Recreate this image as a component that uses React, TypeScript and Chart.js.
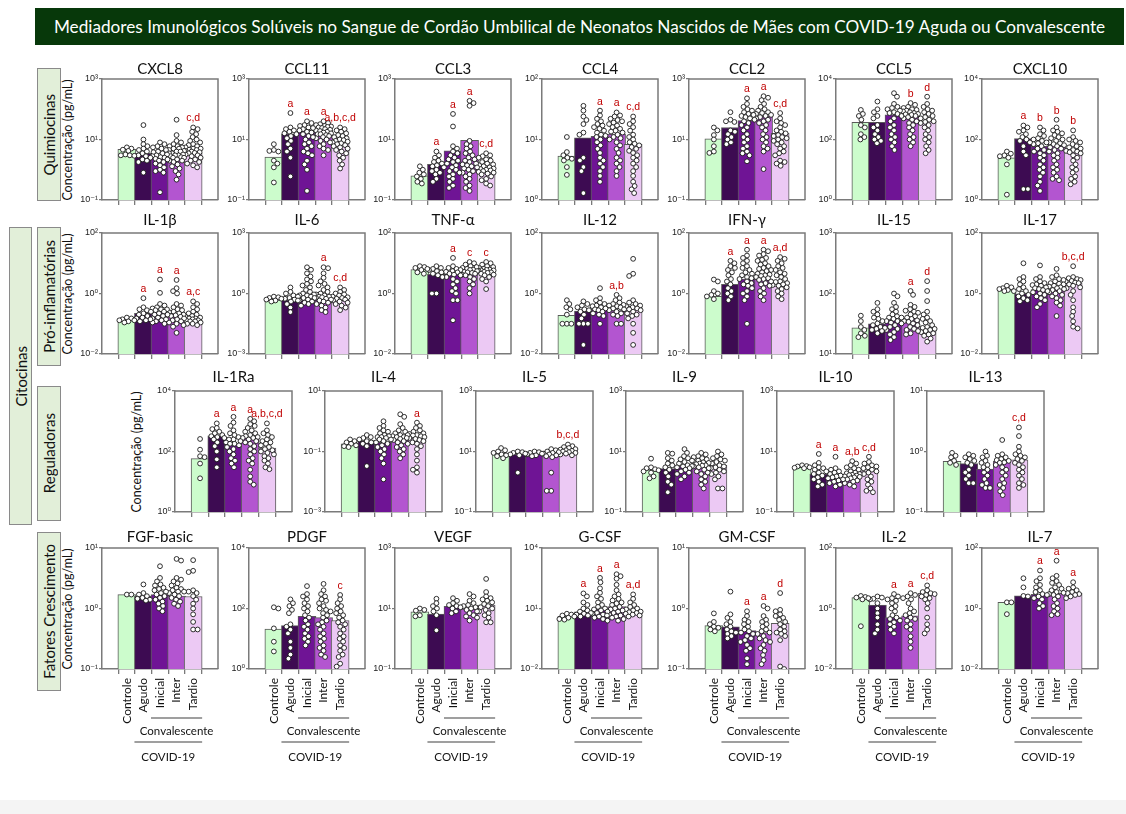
import React, { useEffect, useRef } from "react";
import { Chart, registerables } from "chart.js";
Chart.register(...registerables);

// ---------- shared categories / styles ----------
const GROUPS = ["Controle", "Agudo", "Inicial", "Inter", "Tardio"];
const COLORS = ["#ccfccc", "#3d0b52", "#6f1495", "#b355d0", "#ecc9f4"];
const FONT = "Lato, 'Open Sans', 'DejaVu Sans', sans-serif";
const TICK_FONT = "'Liberation Sans', 'DejaVu Sans', sans-serif";
const AXIS = "#7a7a7a";

// ---------- data (pg/mL) ----------
// Row 1: Quimiocinas
const CXCL8_TICKS = [0.1, 10, 1000];
const CXCL8_BARS = [4.7, 3.5, 2.8, 2.8, 3.5];
const CXCL8_SIG = ["", "", "", "", "c,d"];
const CXCL8_PTS = [
  [5.5, 5.0, 4.6, 4.2, 3.2, 3.0, 3.0, 2.9],
  [30, 10, 7, 6, 5, 4.5, 4, 3.5, 3, 2.8, 2.5, 2.2, 2, 1.8, 0.8],
  [8, 7, 6, 5.5, 5, 4.5, 4, 3.8, 3.5, 3.2, 3, 2.8, 2.6, 2.5, 2.3, 2.2, 2, 1.8, 1.6, 1.4, 1.2, 1.0, 0.9, 0.8, 0.18],
  [45, 14, 9, 8, 7, 6, 6, 5.5, 5, 5, 4.5, 4.2, 4, 4, 3.5, 3.5, 3.2, 3, 3, 2.8, 2.6, 2.5, 2.5, 2.2, 2, 2, 1.8, 1.5, 1.3, 1.1, 0.9, 0.7, 0.47],
  [25, 22, 18, 15, 12, 10, 9, 8, 7, 6.5, 6, 5.5, 5, 5, 4.6, 4.5, 4.2, 4, 3.8, 3.6, 3.5, 3.2, 3, 2.8, 2.5, 2.2, 2, 1.8, 1.6, 1.4, 1.2],
];

const CCL11_TICKS = [0.1, 10, 1000];
const CCL11_BARS = [2.6, 15, 20, 20, 9.3];
const CCL11_SIG = ["", "a", "a", "a", "a,b,c,d"];
const CCL11_PTS = [
  [7, 4.5, 4.2, 4.0, 2.0, 1.6, 1.2, 0.38],
  [75, 25, 22, 20, 18, 16, 15, 13, 11, 9, 7, 5, 4, 2.5, 0.6],
  [40, 35, 30, 28, 25, 24, 22, 20, 18, 17, 15, 13, 12, 10, 8, 7, 6, 5, 4, 3.5, 3, 2, 1.5, 1, 0.2],
  [40, 35, 32, 30, 28, 27, 26, 25, 24, 22, 21, 20, 19, 18, 17, 16, 15, 15, 14, 13, 12, 11, 10, 9, 8, 7, 6, 5, 4.5, 3],
  [25, 22, 20, 18, 16, 14, 13, 12, 11, 10, 9.5, 9, 8.5, 8, 7.5, 7, 6.5, 6, 5.5, 5, 4.5, 4, 3.5, 3, 2.5, 2, 1.5, 1.1],
];

const CCL3_TICKS = [0.1, 10, 1000];
const CCL3_BARS = [0.63, 1.5, 4.2, 9.3, 1.1];
const CCL3_SIG = ["", "a", "a", "a", "c,d"];
const CCL3_PTS = [
  [1.3, 1.0, 0.8, 0.7, 0.6, 0.5, 0.4, 0.35],
  [4, 3, 2.5, 2, 1.8, 1.6, 1.4, 1.3, 1.2, 1, 0.9, 0.8, 0.7, 0.5, 0.4],
  [70, 27, 6, 5, 4, 3.5, 3, 2.5, 2.2, 2, 1.8, 1.6, 1.4, 1.2, 1.0, 0.9, 0.8, 0.7, 0.6, 0.5, 0.4, 0.3, 0.25],
  [190, 160, 130, 9, 7, 6, 5, 4, 3.5, 3, 2.5, 2.2, 2, 1.8, 1.6, 1.5, 1.4, 1.3, 1.2, 1.1, 1, 0.9, 0.8, 0.7, 0.6, 0.5, 0.4, 0.3, 0.25, 0.2],
  [3.5, 3, 2.8, 2.5, 2.2, 2, 1.8, 1.6, 1.5, 1.4, 1.3, 1.2, 1.1, 1.05, 1, 0.95, 0.9, 0.85, 0.8, 0.75, 0.7, 0.6, 0.5, 0.45, 0.35, 0.3],
];

const CCL4_TICKS = [1, 10, 100];
const CCL4_BARS = [5.3, 10.7, 11.3, 12.3, 8.3];
const CCL4_SIG = ["", "", "a", "a", "c,d"];
const CCL4_PTS = [
  [11, 6.2, 5.5, 5, 4.8, 4.5, 3.5, 2.6],
  [36, 30, 24, 21, 18, 13, 12, 5, 4.5, 3.5, 3, 1.3],
  [30, 25, 22, 20, 18, 17, 16, 15, 14, 13, 12, 11.5, 11, 10, 9, 8, 7, 6, 5, 4.5, 4, 3.5, 3, 2.5, 2],
  [28, 25, 24, 22, 21, 20, 19, 18, 17, 16, 15, 14, 13.5, 13, 12, 11, 10.5, 10, 9, 8, 7, 6, 5, 4.5, 4, 3.5, 3, 2.5],
  [24, 20, 18, 16, 14, 12, 11, 10, 9, 8.5, 8, 7.5, 7, 6.5, 6, 5.5, 5, 4.5, 4, 3.5, 3, 2.5, 2, 1.7, 1.5, 1.3],
];

const CCL2_TICKS = [0.1, 10, 1000];
const CCL2_BARS = [10.5, 25, 42, 60, 16];
const CCL2_SIG = ["", "", "a", "a", "c,d"];
const CCL2_PTS = [
  [25, 20, 14, 10, 6, 4, 3.6],
  [80, 45, 40, 38, 20, 18, 15, 12, 10, 8, 7],
  [230, 150, 120, 100, 90, 80, 70, 65, 60, 55, 50, 45, 40, 35, 30, 25, 20, 15, 12, 10, 8, 6, 5, 4, 3.5, 3, 1.9],
  [270, 240, 200, 150, 120, 100, 90, 80, 75, 70, 65, 60, 55, 50, 45, 40, 35, 30, 25, 20, 15, 12, 10, 8, 6, 5, 4, 1.05],
  [75, 50, 40, 35, 30, 25, 20, 18, 16, 14, 13, 12, 11, 10, 9, 8, 7, 6, 5, 4, 3.5, 3, 2, 1.8, 1.6, 1.35],
];

const CCL5_TICKS = [1, 100, 10000];
const CCL5_BARS = [370, 370, 660, 580, 400];
const CCL5_SIG = ["", "", "", "b", "d"];
const CCL5_PTS = [
  [950, 700, 600, 450, 300, 250, 150, 120, 100],
  [1800, 1000, 800, 600, 500, 300, 250, 200, 150, 120, 100, 90, 75],
  [3400, 2600, 1500, 1200, 1100, 1000, 900, 800, 750, 700, 600, 500, 400, 300, 250, 200, 150, 120, 100, 80, 60, 45],
  [1600, 1400, 1200, 1100, 1000, 950, 900, 850, 800, 750, 700, 680, 650, 600, 550, 500, 450, 400, 350, 300, 250, 200, 150, 120, 100, 80, 60],
  [2600, 1500, 1200, 1000, 900, 800, 700, 600, 550, 500, 450, 400, 380, 350, 300, 250, 200, 150, 120, 100, 80, 60, 45, 35],
];

const CXCL10_TICKS = [1, 100, 10000];
const CXCL10_BARS = [25, 108, 60, 65, 49];
const CXCL10_SIG = ["", "a", "b", "b", "b"];
const CXCL10_PTS = [
  [40, 34, 30, 28, 25, 15, 1.5],
  [290, 250, 200, 180, 150, 120, 100, 90, 80, 60, 40, 30, 2.3, 2.3],
  [250, 200, 150, 130, 110, 100, 90, 80, 75, 70, 60, 50, 45, 40, 35, 30, 25, 20, 15, 12, 10, 8, 6, 4, 3, 2],
  [450, 250, 200, 180, 160, 140, 120, 110, 100, 90, 80, 75, 70, 65, 60, 55, 50, 45, 40, 35, 30, 25, 20, 15, 12, 10, 8, 6, 5, 4.5],
  [200, 120, 100, 90, 80, 70, 60, 55, 50, 45, 42, 40, 38, 35, 30, 25, 20, 15, 12, 10, 8, 6, 5, 4, 3.3],
];

// Row 2: Pró-inflamatórias
const IL1B_TICKS = [0.01, 1, 100];
const IL1B_BARS = [0.13, 0.22, 0.25, 0.22, 0.12];
const IL1B_SIG = ["", "a", "a", "a", "a,c"];
const IL1B_PTS = [
  [0.16, 0.15, 0.14, 0.13, 0.13, 0.12, 0.11],
  [0.7, 0.35, 0.3, 0.28, 0.25, 0.22, 0.2, 0.18, 0.16, 0.15, 0.14, 0.13, 0.12],
  [2.9, 1.05, 0.45, 0.4, 0.35, 0.32, 0.3, 0.3, 0.28, 0.25, 0.22, 0.2, 0.2, 0.18, 0.16, 0.15, 0.14, 0.13, 0.12, 0.11, 0.1],
  [2.8, 1.5, 1.2, 1.0, 0.45, 0.4, 0.35, 0.3, 0.28, 0.25, 0.24, 0.22, 0.2, 0.19, 0.18, 0.17, 0.15, 0.14, 0.13, 0.12, 0.11, 0.1, 0.09, 0.08, 0.05],
  [0.55, 0.45, 0.35, 0.3, 0.25, 0.22, 0.2, 0.18, 0.17, 0.16, 0.15, 0.15, 0.14, 0.13, 0.13, 0.12, 0.12, 0.11, 0.1, 0.1, 0.09],
];

const IL6_TICKS = [0.001, 1, 1000];
const IL6_BARS = [0.47, 0.47, 0.5, 0.57, 0.47];
const IL6_SIG = ["", "", "", "a", "c,d"];
const IL6_PTS = [
  [0.7, 0.65, 0.6, 0.55, 0.5, 0.45, 0.4],
  [2.0, 1.2, 1.0, 0.8, 0.7, 0.6, 0.55, 0.5, 0.45, 0.4, 0.3, 0.2, 0.12],
  [20, 15, 10, 7, 5, 4, 3, 2.5, 2, 1.5, 1.2, 1.0, 0.9, 0.8, 0.8, 0.7, 0.6, 0.6, 0.5, 0.45, 0.4, 0.35, 0.3, 0.25],
  [20, 18, 10, 6, 4, 3, 2.5, 2, 1.5, 1.2, 1.0, 0.9, 0.8, 0.7, 0.7, 0.65, 0.6, 0.55, 0.5, 0.45, 0.4, 0.35, 0.3, 0.25, 0.2, 0.15, 0.12],
  [2, 1.5, 1.2, 1.0, 0.9, 0.8, 0.7, 0.65, 0.6, 0.55, 0.5, 0.45, 0.4, 0.35, 0.3, 0.25, 0.2, 0.15],
];

const TNFA_TICKS = [0.01, 1, 100];
const TNFA_BARS = [6.2, 4.3, 4.3, 4.8, 5.5];
const TNFA_SIG = ["", "", "a", "c", "c"];
const TNFA_PTS = [
  [8, 7.5, 7, 6.5, 6, 5, 4.5],
  [8, 7, 6.5, 6, 5.5, 5, 4.5, 4, 3.5, 1.0, 1.0],
  [15, 8, 7, 6.5, 6, 5.5, 5.2, 5, 4.5, 4.2, 4, 3.5, 3, 2.5, 2, 1.5, 1.2, 1, 0.6, 0.6, 0.13],
  [11, 10, 9, 8, 7.5, 7, 6.5, 6.2, 6, 5.5, 5.2, 5, 4.8, 4.5, 4.2, 4, 3.5, 3, 2.5, 2, 1.5, 1.0],
  [11, 10, 9, 8, 7.5, 7, 6.5, 6.2, 6, 5.8, 5.8, 5.5, 5.2, 5, 4.8, 4.5, 4.2, 4, 3.5, 3, 2.5, 1.4],
];

const IL12_TICKS = [0.01, 1, 100];
const IL12_BARS = [0.19, 0.26, 0.3, 0.27, 0.38];
const IL12_SIG = ["", "", "", "a,b", ""];
const IL12_PTS = [
  [0.6, 0.45, 0.35, 0.3, 0.2, 0.1, 0.1, 0.1],
  [0.55, 0.45, 0.4, 0.35, 0.3, 0.28, 0.25, 0.2, 0.15, 0.1, 0.1, 0.1, 0.02],
  [1.5, 0.7, 0.6, 0.5, 0.45, 0.4, 0.38, 0.35, 0.32, 0.3, 0.28, 0.25, 0.22, 0.2, 0.18, 0.1],
  [0.9, 0.7, 0.6, 0.5, 0.45, 0.42, 0.4, 0.38, 0.35, 0.32, 0.3, 0.28, 0.25, 0.22, 0.2, 0.18, 0.1, 0.1],
  [14, 4.5, 3.8, 0.6, 0.5, 0.45, 0.4, 0.38, 0.35, 0.32, 0.3, 0.28, 0.25, 0.22, 0.2, 0.18, 0.15, 0.1, 0.05, 0.02],
];

const IFNG_TICKS = [0.01, 1, 100];
const IFNG_BARS = [0.81, 2, 3, 3, 1.75];
const IFNG_SIG = ["", "a", "a", "a", "a,d"];
const IFNG_PTS = [
  [2.9, 2.5, 1.2, 1.0, 0.9, 0.8, 0.65],
  [12, 10, 8, 7, 6, 5, 4, 3, 2.5, 2, 1.5, 1.2, 1, 0.8, 0.6],
  [28, 18, 15, 12, 10, 8, 7, 6, 5, 4.5, 4, 3.5, 3.2, 3, 2.5, 2.2, 2, 1.8, 1.5, 1.2, 1, 0.8, 0.6, 0.1],
  [28, 25, 20, 18, 15, 13, 12, 10, 9, 8, 7, 6.5, 6, 5.5, 5, 4.5, 4.2, 4, 3.8, 3.5, 3.2, 3, 2.8, 2.5, 2.2, 2, 1.8, 1.5, 1.2, 1, 0.8, 0.6],
  [16, 14, 12, 10, 8, 7, 6, 5, 4.5, 4, 3.5, 3, 2.5, 2.4, 2.2, 2, 1.9, 1.8, 1.6, 1.4, 1.2, 1, 0.8, 0.65],
];

const IL15_TICKS = [10, 100, 1000];
const IL15_BARS = [27, 31.5, 36, 38, 28];
const IL15_SIG = ["", "", "", "a", "d"];
const IL15_PTS = [
  [43, 35, 28, 25, 22, 20, 19],
  [70, 55, 50, 45, 40, 38, 35, 32, 30, 28, 27, 26, 25, 24, 22],
  [100, 90, 70, 60, 55, 50, 45, 42, 40, 40, 38, 35, 35, 33, 32, 30, 28, 26, 25, 23, 21, 19, 17],
  [110, 95, 65, 60, 55, 52, 50, 48, 45, 42, 40, 38, 36, 35, 34, 32, 30, 28, 26, 25, 24, 22, 21],
  [160, 110, 75, 50, 45, 40, 38, 35, 33, 30, 28, 27, 26, 25, 24, 23, 22, 21, 20, 18, 16],
];

const IL17_TICKS = [0.01, 1, 100];
const IL17_BARS = [1.35, 0.98, 1.35, 1.35, 2.2];
const IL17_SIG = ["", "", "", "", "b,c,d"];
const IL17_PTS = [
  [1.8, 1.6, 1.5, 1.4, 1.3, 1.2, 1.2],
  [10, 3.5, 3, 2.5, 2, 1.6, 1.4, 1.2, 1, 0.9, 0.8, 0.7, 0.6, 0.55],
  [8.5, 3.5, 3, 2.5, 2.2, 2, 1.9, 1.8, 1.6, 1.5, 1.4, 1.3, 1.2, 1.1, 1, 0.9, 0.8, 0.7, 0.6, 0.45, 0.35],
  [6.5, 4, 3.5, 3, 2.8, 2.5, 2.2, 2.1, 2, 1.8, 1.7, 1.6, 1.5, 1.4, 1.3, 1.2, 1.1, 1, 0.9, 0.8, 0.7, 0.6, 0.5, 0.4, 0.18],
  [8, 3.5, 3.2, 3, 2.8, 2.6, 2.5, 2.3, 2.2, 2, 1.8, 1.6, 1.5, 1.2, 0.9, 0.6, 0.35, 0.25, 0.18, 0.12, 0.08, 0.07],
];

// Row 3: Reguladoras
const IL1RA_TICKS = [1, 100, 10000];
const IL1RA_BARS = [58, 330, 160, 300, 130];
const IL1RA_SIG = ["", "a", "a", "a", "a,b,c,d"];
const IL1RA_PTS = [
  [260, 115, 70, 65, 40, 13],
  [850, 600, 550, 450, 400, 350, 320, 300, 280, 250, 200, 150, 100, 55, 30],
  [1400, 900, 700, 500, 400, 350, 300, 250, 250, 220, 200, 180, 180, 160, 140, 120, 100, 80, 60, 50, 40, 30],
  [1200, 1000, 800, 700, 600, 500, 450, 400, 350, 320, 300, 280, 280, 250, 220, 200, 180, 150, 120, 100, 80, 60, 50, 40, 25, 15, 10, 8],
  [850, 500, 400, 350, 300, 250, 220, 200, 180, 160, 140, 120, 110, 100, 90, 80, 70, 60, 50, 40, 30, 26],
];

const IL4_TICKS = [0.001, 0.1, 10];
const IL4_BARS = [0.18, 0.23, 0.2, 0.245, 0.28];
const IL4_SIG = ["", "", "", "", "a"];
const IL4_PTS = [
  [0.25, 0.22, 0.2, 0.18, 0.16, 0.15, 0.14],
  [0.35, 0.3, 0.28, 0.25, 0.22, 0.2, 0.18, 0.15, 0.033],
  [1.0, 0.7, 0.6, 0.5, 0.45, 0.4, 0.35, 0.32, 0.3, 0.3, 0.28, 0.25, 0.25, 0.22, 0.2, 0.18, 0.16, 0.14, 0.12, 0.1, 0.08, 0.06, 0.04, 0.012],
  [1.7, 1.4, 0.8, 0.6, 0.5, 0.45, 0.4, 0.35, 0.35, 0.32, 0.3, 0.3, 0.28, 0.26, 0.24, 0.22, 0.2, 0.18, 0.16, 0.14, 0.12, 0.1, 0.08, 0.06],
  [0.9, 0.7, 0.6, 0.5, 0.45, 0.4, 0.38, 0.35, 0.34, 0.32, 0.3, 0.28, 0.26, 0.24, 0.22, 0.2, 0.18, 0.15, 0.12, 0.08, 0.05, 0.03, 0.025, 0.02],
];

const IL5_TICKS = [0.1, 10, 1000];
const IL5_BARS = [8.5, 8, 8, 9, 12];
const IL5_SIG = ["", "", "", "", "b,c,d"];
const IL5_PTS = [
  [13, 11, 10, 9, 8, 7.5, 7, 6],
  [10, 9.5, 9, 8.5, 8, 7.5, 2.0],
  [10, 9.5, 9, 8.5, 8, 7.5, 7],
  [12, 11, 10, 9.5, 9, 8.5, 8, 7.5, 7, 6.5, 2, 0.5, 0.5],
  [17, 15, 14, 13, 12, 11.5, 11, 10.5, 10, 9.5, 9, 8.5, 8, 7.5],
];

const IL9_TICKS = [0.1, 10, 1000];
const IL9_BARS = [2.5, 2.7, 3.3, 3.2, 3.5];
const IL9_SIG = ["", "", "", "", ""];
const IL9_PTS = [
  [5.8, 3, 2.8, 2.6, 2.4, 2.2, 2, 1.5, 1.3],
  [9, 8.5, 6, 5, 4, 3.5, 3, 2.5, 2, 1.5, 1, 0.8, 0.45],
  [12, 9, 7, 6, 5.5, 5, 4.5, 4, 3.5, 3.3, 3.2, 3, 2.8, 2.5, 2.2, 2, 1.8, 1.5, 1.2],
  [9, 8, 7, 6.5, 6, 5.5, 5, 4.5, 4.4, 4.2, 4, 3.8, 3.5, 3.4, 3.2, 3, 2.8, 2.5, 2.2, 2, 1.8, 1.5, 1.2, 1, 0.8, 0.6],
  [10, 8, 7, 6, 5.5, 5, 4.5, 4, 3.5, 3.2, 3, 2.8, 2.5, 2.2, 2, 1.8, 1.5, 1.2, 0.6, 0.6],
];

const IL10_TICKS = [0.1, 10, 1000];
const IL10_BARS = [3, 1.8, 1.23, 1.4, 2.3];
const IL10_SIG = ["", "a", "a", "a,b", "c,d"];
const IL10_PTS = [
  [3.5, 3.3, 3.2, 3, 2.9, 2.8],
  [8.3, 4.2, 3.5, 3, 2.8, 2.5, 2.2, 2, 1.8, 1.6, 1.4, 1.2, 1, 0.8, 0.7],
  [6.7, 2.8, 2.5, 2.2, 2, 1.8, 1.6, 1.5, 1.4, 1.3, 1.2, 1.1, 1, 0.9, 0.8, 0.7],
  [4.8, 4, 3.5, 3, 2.8, 2.5, 2.2, 2, 1.9, 1.8, 1.7, 1.65, 1.6, 1.5, 1.45, 1.4, 1.3, 1.2, 1.1, 1, 0.9, 0.8, 0.7],
  [6.7, 4.5, 4, 3.5, 3.2, 3, 2.8, 2.5, 2.2, 2, 1.8, 1.5, 1.2, 1, 0.8, 0.6, 0.5, 0.45],
];

const IL13_TICKS = [0.1, 1, 10];
const IL13_BARS = [0.69, 0.63, 0.51, 0.69, 0.73];
const IL13_SIG = ["", "", "", "", "c,d"];
const IL13_PTS = [
  [0.95, 0.85, 0.8, 0.7, 0.65, 0.6],
  [0.9, 0.85, 0.8, 0.75, 0.7, 0.65, 0.6, 0.5, 0.45, 0.4, 0.35, 0.3, 0.3],
  [1.0, 0.85, 0.8, 0.7, 0.65, 0.6, 0.55, 0.5, 0.45, 0.4, 0.35, 0.3, 0.28, 0.25, 0.25],
  [1.55, 0.9, 0.85, 0.8, 0.75, 0.72, 0.7, 0.66, 0.65, 0.6, 0.55, 0.5, 0.45, 0.4, 0.35, 0.3, 0.28, 0.25, 0.22, 0.19],
  [2.5, 1.8, 1.2, 1.0, 0.9, 0.85, 0.8, 0.75, 0.7, 0.65, 0.6, 0.55, 0.5, 0.45, 0.4, 0.35, 0.3, 0.28, 0.25],
];

// Row 4: Fatores Crescimento
const FGF_TICKS = [0.1, 1, 10];
const FGF_BARS = [1.7, 1.6, 1.7, 1.6, 1.58];
const FGF_SIG = ["", "", "", "", ""];
const FGF_PTS = [
  [1.7, 1.7],
  [2.5, 1.8, 1.7, 1.6, 1.5, 1.45, 1.4, 1.35],
  [5, 3.2, 2.8, 2.5, 2.4, 2.2, 2.1, 2, 1.9, 1.8, 1.7, 1.6, 1.5, 1.4, 1.3, 1.2, 1.1, 1.0, 0.9],
  [6.6, 6.2, 3.2, 3, 2.8, 2.6, 2.4, 2.2, 2.1, 2, 1.9, 1.9, 1.8, 1.7, 1.6, 1.5, 1.4, 1.3, 1.2, 1.1],
  [6.3, 4.2, 4.0, 2.0, 1.9, 1.8, 1.6, 1.4, 1.2, 1.0, 0.8, 0.6, 0.45, 0.45],
];

const PDGF_TICKS = [1, 100, 10000];
const PDGF_BARS = [21, 27, 55, 50, 40];
const PDGF_SIG = ["", "", "", "", "c"];
const PDGF_PTS = [
  [110, 100, 22, 8, 3.8],
  [200, 150, 120, 90, 70, 30, 25, 20, 15, 8, 5, 3, 2.2],
  [550, 300, 250, 200, 150, 120, 100, 80, 60, 50, 40, 30, 25, 20, 15, 12, 10, 8, 6],
  [650, 400, 300, 250, 200, 180, 150, 120, 100, 90, 80, 70, 60, 50, 40, 35, 30, 25, 20, 15, 12, 10, 8, 6, 5, 4, 3, 2.5],
  [280, 200, 150, 120, 100, 80, 70, 60, 50, 40, 35, 30, 25, 20, 15, 12, 10, 8, 6, 5, 4, 3, 2.5, 1.5, 1.2],
];

const VEGF_TICKS = [0.1, 10, 1000];
const VEGF_BARS = [7.8, 6.5, 11.7, 9.6, 13];
const VEGF_SIG = ["", "", "", "", ""];
const VEGF_PTS = [
  [10, 9, 8.5, 6, 5.5],
  [21, 15, 12, 10, 8, 6, 1.9],
  [22, 18, 15, 13, 12, 11, 10, 8, 7],
  [30, 25, 18, 15, 13, 12, 11, 10, 9, 8, 7, 6, 5.5, 5, 4],
  [95, 35, 25, 22, 20, 18, 16, 14, 12, 11, 10, 9, 8, 7, 6, 5, 3.5, 3.5],
];

const GCSF_TICKS = [0.01, 10, 10000];
const GCSF_BARS = [4.1, 6.9, 9.3, 12.6, 6.9];
const GCSF_SIG = ["", "a", "a", "a", "a,d"];
const GCSF_PTS = [
  [5.5, 5, 4.5, 4, 3.5, 3, 2.8],
  [56, 40, 20, 15, 10, 8, 7, 6, 5.5, 5, 4.5, 4],
  [330, 200, 100, 60, 40, 30, 20, 15, 12, 10, 9, 8, 7, 6, 5.5, 5, 4.5, 4, 3.5, 3, 2.5],
  [500, 400, 300, 150, 80, 50, 40, 30, 25, 20, 18, 15, 12, 10, 9, 8, 7, 6, 5, 4.5, 4, 3.5, 3, 2.5],
  [50, 30, 20, 15, 12, 10, 9, 8, 7, 6.5, 6, 5.5, 5, 4.5, 4],
];

const GMCSF_TICKS = [0.1, 1, 10];
const GMCSF_BARS = [0.52, 0.5, 0.43, 0.4, 0.57];
const GMCSF_SIG = ["", "", "a", "a", "d"];
const GMCSF_PTS = [
  [0.83, 0.6, 0.55, 0.5, 0.48, 0.45, 0.42],
  [1.9, 0.8, 0.7, 0.6, 0.55, 0.5, 0.45, 0.42, 0.4, 0.38, 0.35, 0.32],
  [0.9, 0.75, 0.65, 0.6, 0.55, 0.5, 0.45, 0.42, 0.4, 0.38, 0.35, 0.32, 0.3, 0.28, 0.25, 0.22, 0.2, 0.15, 0.12],
  [1.1, 1.0, 0.75, 0.65, 0.6, 0.55, 0.5, 0.45, 0.42, 0.4, 0.38, 0.35, 0.32, 0.3, 0.28, 0.25, 0.22, 0.2, 0.17, 0.14, 0.12],
  [1.8, 0.95, 0.9, 0.8, 0.75, 0.7, 0.65, 0.6, 0.55, 0.5, 0.45, 0.42, 0.4, 0.38, 0.35, 0.3, 0.11, 0.1],
];

const IL2_TICKS = [0.01, 1, 100];
const IL2_BARS = [2.3, 1.3, 0.5, 0.57, 3.2];
const IL2_SIG = ["", "", "a", "a", "c,d"];
const IL2_PTS = [
  [2.6, 2.4, 2.3, 2.2, 2.0, 0.26],
  [2.5, 2.3, 2.1, 2.0, 1.5, 1.0, 0.7, 0.5, 0.3, 0.2, 0.15],
  [3, 2.5, 2.2, 2, 1.8, 1.5, 1.2, 1, 0.8, 0.6, 0.5, 0.45, 0.4, 0.35, 0.3, 0.25, 0.2, 0.15],
  [3.2, 2.8, 2.5, 2.2, 2, 1.5, 1, 0.8, 0.7, 0.6, 0.5, 0.45, 0.4, 0.3, 0.25, 0.2, 0.12, 0.08, 0.05],
  [5.8, 4, 3.5, 3.2, 3, 2.8, 2.5, 2.2, 2, 1.5, 1.0, 0.5, 0.3, 0.2, 0.15],
];

const IL7_TICKS = [0.01, 1, 100];
const IL7_BARS = [1.6, 2.6, 2.95, 3.2, 3.2];
const IL7_SIG = ["", "", "a", "a", "a"];
const IL7_PTS = [
  [1.6, 1.6, 0.65],
  [10, 5, 2.6, 2.5],
  [18, 10, 8, 6, 5, 4, 3.5, 3, 2.8, 2.5, 2.2, 2, 1.5, 1.2, 1],
  [38, 12, 10, 8, 7, 6, 5, 4.5, 4, 3.5, 3.3, 3, 2.8, 2.5, 2, 1.5, 1.2, 1, 0.8, 0.65, 0.6],
  [7.4, 5, 4.5, 4, 3.5, 3.2, 3, 2.8, 2.5, 2.2],
];

// ---------- panel list ----------
type Spec = { title: string; ticks: number[]; bars: number[]; pts: number[][]; sig: string[] };
const ROW1: Spec[] = [
  { title: "CXCL8", ticks: CXCL8_TICKS, bars: CXCL8_BARS, pts: CXCL8_PTS, sig: CXCL8_SIG },
  { title: "CCL11", ticks: CCL11_TICKS, bars: CCL11_BARS, pts: CCL11_PTS, sig: CCL11_SIG },
  { title: "CCL3", ticks: CCL3_TICKS, bars: CCL3_BARS, pts: CCL3_PTS, sig: CCL3_SIG },
  { title: "CCL4", ticks: CCL4_TICKS, bars: CCL4_BARS, pts: CCL4_PTS, sig: CCL4_SIG },
  { title: "CCL2", ticks: CCL2_TICKS, bars: CCL2_BARS, pts: CCL2_PTS, sig: CCL2_SIG },
  { title: "CCL5", ticks: CCL5_TICKS, bars: CCL5_BARS, pts: CCL5_PTS, sig: CCL5_SIG },
  { title: "CXCL10", ticks: CXCL10_TICKS, bars: CXCL10_BARS, pts: CXCL10_PTS, sig: CXCL10_SIG },
];
const ROW2: Spec[] = [
  { title: "IL-1β", ticks: IL1B_TICKS, bars: IL1B_BARS, pts: IL1B_PTS, sig: IL1B_SIG },
  { title: "IL-6", ticks: IL6_TICKS, bars: IL6_BARS, pts: IL6_PTS, sig: IL6_SIG },
  { title: "TNF-α", ticks: TNFA_TICKS, bars: TNFA_BARS, pts: TNFA_PTS, sig: TNFA_SIG },
  { title: "IL-12", ticks: IL12_TICKS, bars: IL12_BARS, pts: IL12_PTS, sig: IL12_SIG },
  { title: "IFN-γ", ticks: IFNG_TICKS, bars: IFNG_BARS, pts: IFNG_PTS, sig: IFNG_SIG },
  { title: "IL-15", ticks: IL15_TICKS, bars: IL15_BARS, pts: IL15_PTS, sig: IL15_SIG },
  { title: "IL-17", ticks: IL17_TICKS, bars: IL17_BARS, pts: IL17_PTS, sig: IL17_SIG },
];
const ROW3: Spec[] = [
  { title: "IL-1Ra", ticks: IL1RA_TICKS, bars: IL1RA_BARS, pts: IL1RA_PTS, sig: IL1RA_SIG },
  { title: "IL-4", ticks: IL4_TICKS, bars: IL4_BARS, pts: IL4_PTS, sig: IL4_SIG },
  { title: "IL-5", ticks: IL5_TICKS, bars: IL5_BARS, pts: IL5_PTS, sig: IL5_SIG },
  { title: "IL-9", ticks: IL9_TICKS, bars: IL9_BARS, pts: IL9_PTS, sig: IL9_SIG },
  { title: "IL-10", ticks: IL10_TICKS, bars: IL10_BARS, pts: IL10_PTS, sig: IL10_SIG },
  { title: "IL-13", ticks: IL13_TICKS, bars: IL13_BARS, pts: IL13_PTS, sig: IL13_SIG },
];
const ROW4: Spec[] = [
  { title: "FGF-basic", ticks: FGF_TICKS, bars: FGF_BARS, pts: FGF_PTS, sig: FGF_SIG },
  { title: "PDGF", ticks: PDGF_TICKS, bars: PDGF_BARS, pts: PDGF_PTS, sig: PDGF_SIG },
  { title: "VEGF", ticks: VEGF_TICKS, bars: VEGF_BARS, pts: VEGF_PTS, sig: VEGF_SIG },
  { title: "G-CSF", ticks: GCSF_TICKS, bars: GCSF_BARS, pts: GCSF_PTS, sig: GCSF_SIG },
  { title: "GM-CSF", ticks: GMCSF_TICKS, bars: GMCSF_BARS, pts: GMCSF_PTS, sig: GMCSF_SIG },
  { title: "IL-2", ticks: IL2_TICKS, bars: IL2_BARS, pts: IL2_PTS, sig: IL2_SIG },
  { title: "IL-7", ticks: IL7_TICKS, bars: IL7_BARS, pts: IL7_PTS, sig: IL7_SIG },
];

// ---------- layout ----------
const ROW_TOP = [79, 233, 391, 548];
const TITLE_GAP = [10, 13, 14, 11];
const BOX_H = 121;
const COL_LEFT = [102, 249, 395, 542, 689, 836, 982];
const COL_LEFT_REG = [175, 325, 476, 626, 777, 927];
const BOX_W = 116;
const BOX_W_REG = 117;
const PAD_L = 44;
const PAD_T = 32;
const PAD_R = 8;

const SUP: Record<string, string> = { "-": "⁻", "0": "⁰", "1": "¹", "2": "²", "3": "³", "4": "⁴", "5": "⁵" };
function fmtPow(v: number) {
  const e = Math.round(Math.log10(v));
  return "10" + String(e).split("").map((c) => SUP[c] || c).join("");
}

// deterministic beeswarm layout (pixel space) so dots do not pile on one line
function swarm(els: any[], cx: number, d: number, maxOff: number) {
  const order = els.slice().sort((a, b) => a.y - b.y);
  const placed: { x: number; y: number }[] = [];
  order.forEach((el, idx) => {
    let best = 0;
    let bestScore = -1;
    let found = false;
    for (let k = 0; k <= maxOff * 2 && !found; k++) {
      const m = k * 0.5;
      const cands = k === 0 ? [0] : idx % 2 ? [m, -m] : [-m, m];
      for (const off of cands) {
        let minD = Infinity;
        for (const p of placed) {
          const dx = p.x - off;
          const dy = p.y - el.y;
          const dd = Math.sqrt(dx * dx + dy * dy);
          if (dd < minD) minD = dd;
        }
        if (minD >= d) {
          best = off;
          found = true;
          break;
        }
        if (minD > bestScore) {
          bestScore = minD;
          best = off;
        }
      }
    }
    placed.push({ x: best, y: el.y });
    el.x = cx + best;
  });
}

function makePlugin(spec: Spec, showX: boolean, titleGap: number) {
  return {
    id: "panelDeco",
    afterDatasetsUpdate(chart: any) {
      const xs = chart.scales.x;
      for (let g = 0; g < 5; g++) {
        const meta = chart.getDatasetMeta(g + 1);
        swarm(meta.data, xs.getPixelForValue(g), 4.4, 7.5);
      }
    },
    afterDraw(chart: any) {
      const ctx = chart.ctx;
      const a = chart.chartArea;
      const xs = chart.scales.x;
      const ys = chart.scales.y;
      ctx.save();
      ctx.strokeStyle = AXIS;
      ctx.lineWidth = 1.5;
      ctx.beginPath();
      ctx.moveTo(a.left, a.top);
      ctx.lineTo(a.right, a.top);
      ctx.lineTo(a.right, a.bottom);
      ctx.stroke();
      ctx.fillStyle = "#111";
      ctx.font = `15px ${FONT}`;
      ctx.textAlign = "center";
      ctx.textBaseline = "middle";
      ctx.fillText(spec.title, (a.left + a.right) / 2, a.top - titleGap);
      ctx.fillStyle = "#c00000";
      ctx.font = `10.5px ${TICK_FONT}`;
      spec.sig.forEach((s, g) => {
        if (!s) return;
        const top = Math.max(...spec.pts[g], spec.bars[g]);
        const y = ys.getPixelForValue(top) - 9;
        ctx.fillText(s, xs.getPixelForValue(g), y);
      });
      if (showX) {
        const half = 9;
        const b = a.bottom;
        ctx.strokeStyle = "#808080";
        ctx.lineWidth = 1.5;
        const x1 = xs.getPixelForValue(2) - half;
        const x2 = xs.getPixelForValue(4) + half;
        const x0 = xs.getPixelForValue(1) - half;
        ctx.beginPath();
        ctx.moveTo(x1, b + 49);
        ctx.lineTo(x2, b + 49);
        ctx.moveTo(x0, b + 73);
        ctx.lineTo(x2, b + 73);
        ctx.stroke();
        ctx.fillStyle = "#111";
        ctx.font = `11.5px ${FONT}`;
        ctx.fillText("Convalescente", (x1 + x2) / 2, b + 62);
        ctx.fillText("COVID-19", (x0 + x2) / 2, b + 88);
      }
      ctx.restore();
    },
  };
}

function Panel({ spec, left, top, width, showX, titleGap }: { spec: Spec; left: number; top: number; width: number; showX: boolean; titleGap: number }) {
  const ref = useRef<HTMLCanvasElement>(null);
  const bottom = showX ? 110 : 10;
  const W = PAD_L + width + PAD_R;
  const H = PAD_T + BOX_H + bottom;
  useEffect(() => {
    const [tMin, , tMax] = spec.ticks;
    const datasets: any[] = [
      {
        type: "bar",
        data: spec.bars.map((v, i) => ({ x: i, y: v })),
        backgroundColor: COLORS,
        borderColor: "#5a5a5a",
        borderWidth: 1,
        barThickness: 18,
        order: 2,
      },
    ];
    spec.pts.forEach((arr, g) => {
      datasets.push({
        type: "scatter",
        data: arr.map((v) => ({ x: g, y: v })),
        pointRadius: 2.4,
        pointBackgroundColor: "#ffffff",
        pointBorderColor: "#1a1a1a",
        pointBorderWidth: 0.9,
        order: 1,
      });
    });
    const chart = new Chart(ref.current as HTMLCanvasElement, {
      type: "bar",
      data: { datasets },
      options: {
        animation: false,
        responsive: false,
        maintainAspectRatio: false,
        events: [],
        layout: { padding: { left: 0, right: PAD_R, top: PAD_T, bottom: 0 } },
        plugins: { legend: { display: false }, tooltip: { enabled: false }, title: { display: false } },
        scales: {
          x: {
            type: "linear",
            min: -0.8,
            max: 4.8,
            afterFit: (s: any) => {
              s.height = bottom;
            },
            afterBuildTicks: (s: any) => {
              s.ticks = [0, 1, 2, 3, 4].map((v) => ({ value: v }));
            },
            ticks: {
              display: showX,
              autoSkip: false,
              minRotation: 90,
              maxRotation: 90,
              padding: 4,
              color: "#111",
              font: { family: FONT, size: 12 },
              callback: (v: any) => GROUPS[v] ?? "",
            },
            grid: { drawOnChartArea: false, drawTicks: true, tickLength: 5, color: AXIS, lineWidth: 1.3 },
            border: { display: true, color: AXIS, width: 1.5 },
          },
          y: {
            type: "logarithmic",
            min: tMin,
            max: tMax,
            afterFit: (s: any) => {
              s.width = PAD_L;
            },
            afterBuildTicks: (s: any) => {
              s.ticks = spec.ticks.map((v) => ({ value: v }));
            },
            ticks: {
              color: "#222",
              padding: 1,
              font: { family: TICK_FONT, size: 9 },
              callback: (v: any) => fmtPow(Number(v)),
            },
            grid: { drawOnChartArea: false, drawTicks: true, tickLength: 3, color: AXIS, lineWidth: 1.3 },
            border: { display: true, color: AXIS, width: 1.5 },
          },
        },
      } as any,
      plugins: [makePlugin(spec, showX, titleGap)],
    } as any);
    return () => chart.destroy();
  }, []);
  return (
    <canvas
      ref={ref}
      width={W}
      height={H}
      style={{ position: "absolute", left: left - PAD_L, top: top - PAD_T, width: W, height: H }}
    />
  );
}

function SideBox({ text, left, top, width, height, size }: { text: string; left: number; top: number; width: number; height: number; size: number }) {
  return (
    <div
      style={{
        position: "absolute",
        left,
        top,
        width,
        height,
        boxSizing: "border-box",
        background: "#e2efd9",
        border: "1.2px solid #8a8a8a",
        display: "flex",
        alignItems: "center",
        justifyContent: "center",
      }}
    >
      <span style={{ writingMode: "vertical-rl", transform: "rotate(180deg)", fontFamily: FONT, fontSize: size, color: "#111", whiteSpace: "nowrap" }}>
        {text}
      </span>
    </div>
  );
}

function YTitle({ cx, cy }: { cx: number; cy: number }) {
  return (
    <div
      style={{
        position: "absolute",
        left: cx - 100,
        top: cy - 8,
        width: 200,
        height: 16,
        lineHeight: "16px",
        textAlign: "center",
        transform: "rotate(-90deg)",
        fontFamily: FONT,
        fontSize: 12.5,
        color: "#111",
        whiteSpace: "nowrap",
      }}
    >
      Concentração (pg/mL)
    </div>
  );
}

export default function App() {
  useEffect(() => {
    document.body.style.margin = "0";
  }, []);
  const rows = [ROW1, ROW2, ROW3, ROW4];
  return (
    <div style={{ position: "absolute", left: 0, top: 0, width: 1126, height: 814, overflow: "hidden", background: "#fff" }}>
      <div
        style={{
          position: "absolute",
          left: 35,
          top: 8,
          width: 1089,
          height: 37,
          background: "#07380a",
          color: "#fff",
          fontFamily: FONT,
          fontSize: 17.2,
          display: "flex",
          alignItems: "center",
          justifyContent: "center",
          whiteSpace: "nowrap",
        }}
      >
        Mediadores Imunológicos Solúveis no Sangue de Cordão Umbilical de Neonatos Nascidos de Mães com COVID-19 Aguda ou Convalescente
      </div>
      <div style={{ position: "absolute", left: 0, top: 800, width: 1126, height: 14, background: "#f4f4f4" }} />

      <SideBox text="Citocinas" left={9} top={227} width={23} height={298} size={15} />
      <SideBox text="Quimiocinas" left={37} top={68} width={24} height={133} size={15} />
      <SideBox text="Pró-inflamatórias" left={37} top={227} width={24} height={139} size={15} />
      <SideBox text="Reguladoras" left={37} top={386} width={24} height={135} size={15} />
      <SideBox text="Fatores Crescimento" left={37} top={532} width={24} height={159} size={15} />

      <YTitle cx={68} cy={ROW_TOP[0] + BOX_H / 2} />
      <YTitle cx={68} cy={ROW_TOP[1] + BOX_H / 2} />
      <YTitle cx={137} cy={ROW_TOP[2] + BOX_H / 2} />
      <YTitle cx={68} cy={ROW_TOP[3] + BOX_H / 2} />

      {rows.map((row, r) =>
        row.map((spec, c) => (
          <Panel
            key={spec.title}
            spec={spec}
            left={r === 2 ? COL_LEFT_REG[c] : COL_LEFT[c]}
            top={ROW_TOP[r]}
            width={r === 2 ? BOX_W_REG : BOX_W}
            showX={r === 3}
            titleGap={TITLE_GAP[r]}
          />
        ))
      )}
    </div>
  );
}
